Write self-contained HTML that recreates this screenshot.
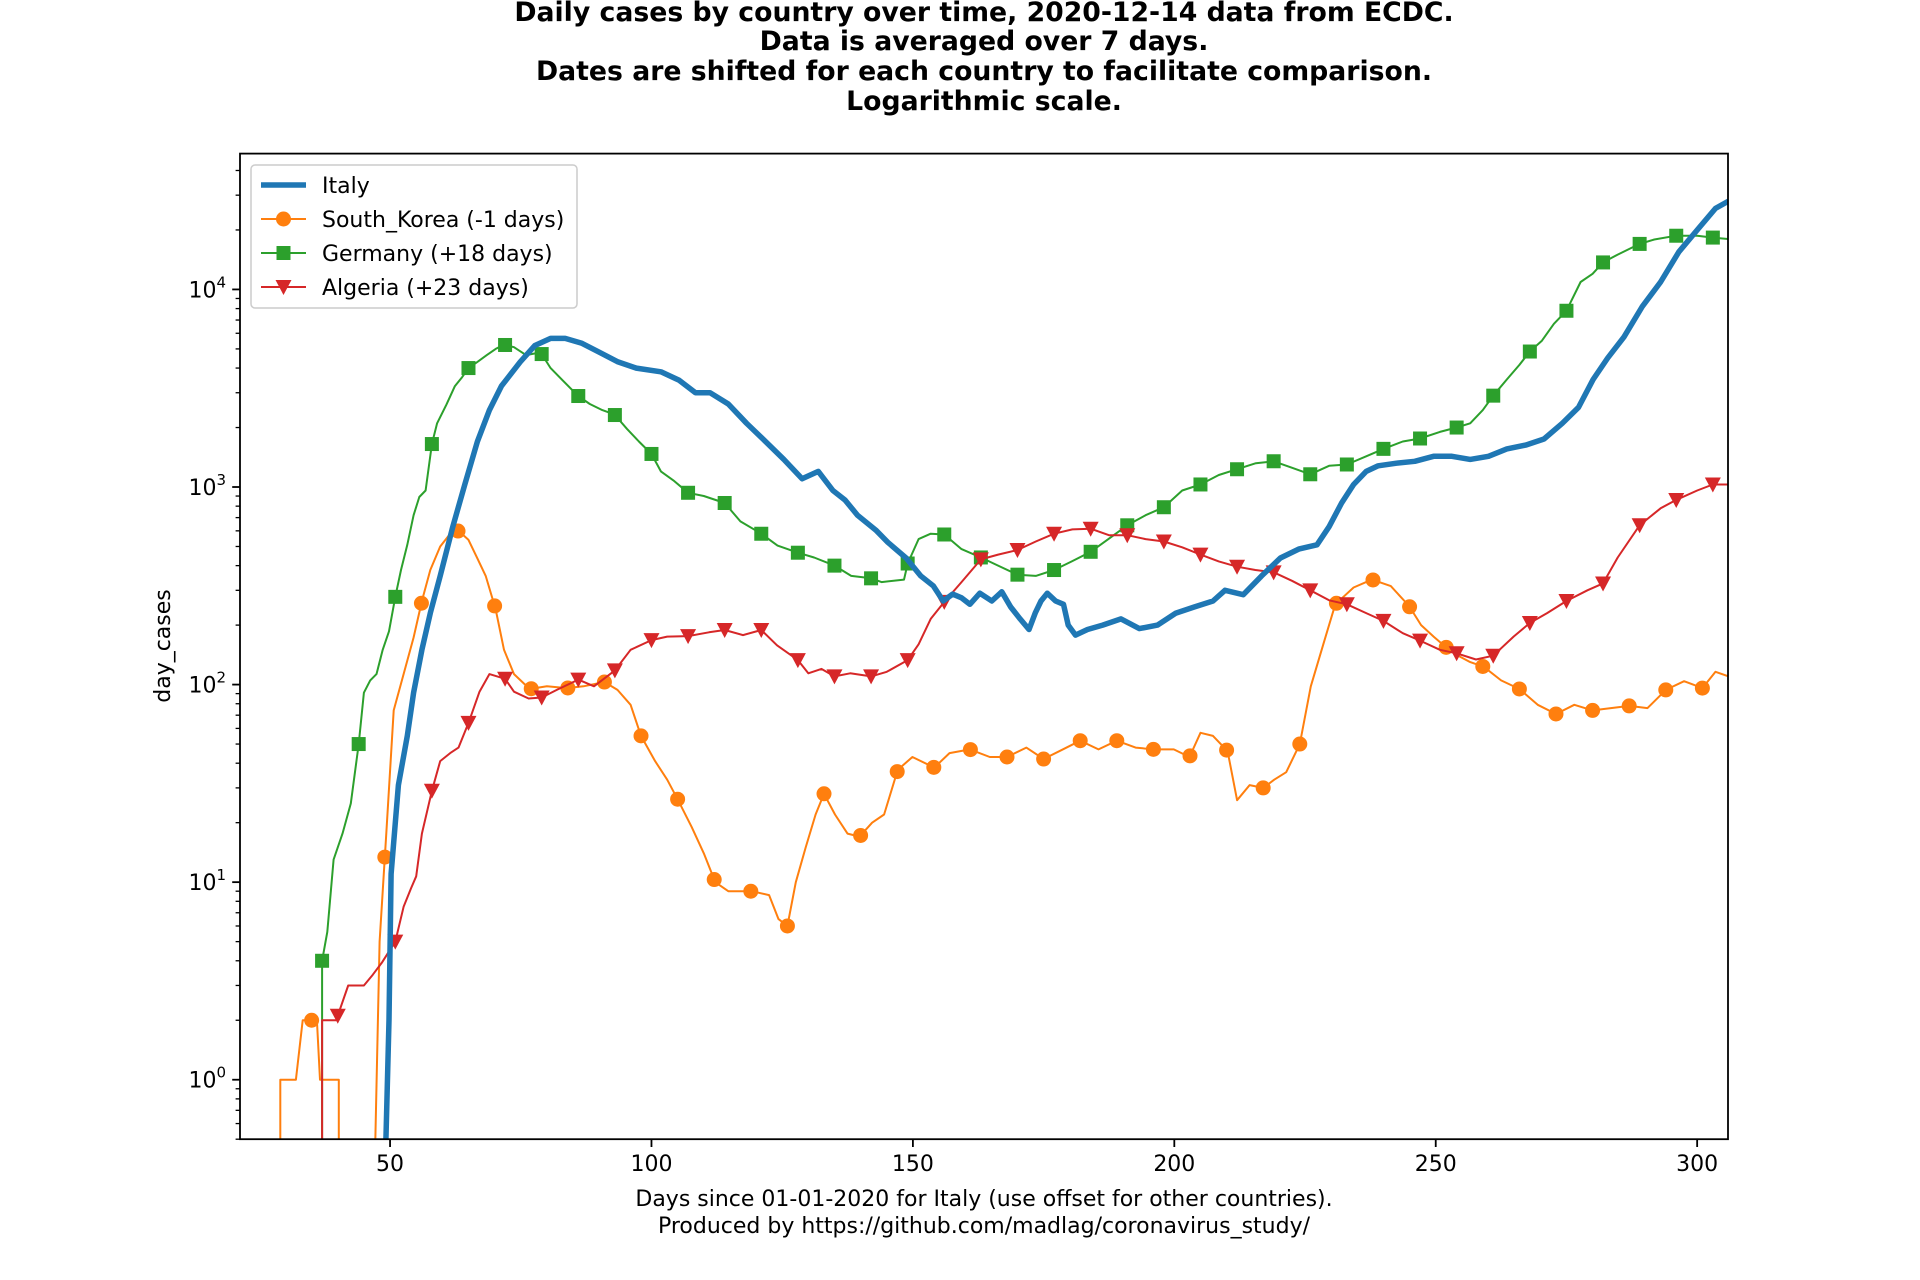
<!DOCTYPE html>
<html><head><meta charset="utf-8">
<style>
html,body{margin:0;padding:0;background:#fff;}
svg{display:block;font-family:"DejaVu Sans","Liberation Sans",sans-serif;}
</style></head>
<body>
<svg id="chart" width="1920" height="1280" viewBox="0 0 1920 1280" xmlns="http://www.w3.org/2000/svg">
<defs><clipPath id="plotclip"><rect x="240" y="153.6" width="1488" height="985.6"/></clipPath></defs>
<rect width="1920" height="1280" fill="#fff"/>
<g font-weight="bold" font-size="26.7" text-anchor="middle" fill="#000">
<text x="984" y="21">Daily cases by country over time, 2020-12-14 data from ECDC.</text>
<text x="984" y="50">Data is averaged over 7 days.</text>
<text x="984" y="80">Dates are shifted for each country to facilitate comparison.</text>
<text x="984" y="110">Logarithmic scale.</text>
</g>
<g id="series" clip-path="url(#plotclip)"></g>
<g id="axes"></g>
<rect x="240" y="153.6" width="1488" height="985.6" fill="none" stroke="#000" stroke-width="1.8"/>
<g font-size="22" text-anchor="middle">
<text x="984" y="1206">Days since 01-01-2020 for Italy (use offset for other countries).</text>
<text x="984" y="1233">Produced by https://github.com/madlag/coronavirus_study/</text>
</g>
<text font-size="22" text-anchor="middle" transform="translate(170,646) rotate(-90)">day_cases</text>
<g id="legend"></g>
</svg>
<script>
const xTicks=[50,100,150,200,250,300];
const yTickExps=[0,1,2,3,4];
const italyDays=[49,49.8,50.2,51.6,53.3,54.5,56.1,57.7,59.6,62,64.3,66.7,69,71.3,74.9,77.7,80.7,83.5,86.6,90.1,93.6,97.1,101.8,105.3,108.4,111.2,114.7,118.2,121.8,125.3,128.8,131.9,134.7,137,139.4,142.9,145.2,148.7,151.5,153.9,155.8,157.6,159.3,160.9,162.8,165.1,167,168.7,170.5,172.2,173.4,174.5,175.7,177.3,178.8,179.7,181.1,183.4,186.3,189.8,193.3,196.8,200.3,203.8,207.4,209.7,213.2,216.7,220.3,223.8,227.3,229.6,232,234.3,236.7,239,242.5,246,249.6,253.1,256.6,260.1,263.6,267.2,270.7,274.2,277.3,280.1,282.9,286,289.5,293,296.5,300,303.5,306];
const italyVals=[0.3,2,11,31,55,91,150,230,355,630,1030,1700,2450,3240,4300,5200,5650,5650,5350,4800,4300,4000,3830,3470,3000,3000,2630,2100,1700,1380,1100,1200,960,860,720,605,525,437,355,316,265,287,275,255,290,265,295,247,215,190,230,265,290,265,255,200,178,190,200,215,192,200,230,247,265,300,285,355,437,485,510,630,830,1030,1200,1280,1320,1350,1430,1430,1380,1430,1560,1630,1750,2100,2530,3500,4500,5750,8200,10900,15500,20000,25700,28000];
const koreaDays=[29,29,32,33.3,36,36.6,40.2,40.2,47,48,49.3,50.7,52.6,54.5,56.1,57.7,59.6,61.5,63.1,65,66.7,68.3,70.2,71.8,73.7,76.7,80,83.8,87,91,93.5,96,98,100.7,103,105.1,107.7,110,112.2,114.7,119.2,122.5,124.3,126,127.6,129.5,131.4,133,135.1,137.5,139.8,142.2,144.5,147.1,149.9,154.1,157,160.9,164.7,168,171.7,175,178,182,185.5,189,192.6,196.1,199.9,202.9,205,207.4,210.2,212,214.4,217,219.1,221.4,224,226.1,228.5,230.8,234.3,237.8,241.4,244.9,247.2,249.6,251.9,254.3,256.6,259.2,262.5,266,269.5,273,276.5,280,283.5,287,290.5,294,297.5,301,303.5,306];
const koreaVals=[0.3,1,1,2,2,1,1,0.3,0.3,5,18,74,113,173,265,380,500,580,600,540,435,355,240,150,113,95,98,96,98,103,94,79,55,41,33,26,19,14,10,9,9,8.6,6.5,6,10,15,22,28,22,17.6,17,20,22,37,43,38,45,47,43,43,48,42,46,52,47,52,48,47,47,43,57,55,46,26,31,30,33,36,50,98,160,255,310,340,315,250,200,175,155,140,130,123,105,95,79,71,79,74,76,78,76,94,104,96,116,110];
const koreaMarkerDays=[35,49,56,63,70,77,84,91,98,105,112,119,126,133,140,147,154,161,168,175,182,189,196,203,210,217,224,231,238,245,252,259,266,273,280,287,294,301];
const germanyDays=[37,37,38,39.2,40.9,42.5,44,45,46.2,47.4,48.6,49.8,51,52.1,53.3,54.5,55.6,56.8,58,59,60.8,62.4,63.8,65,66.7,68.5,70.2,71.8,73.7,76,78.8,80.7,83,85.9,88.2,90.6,92.9,95.3,97.6,100,101.8,104.2,107,110,114,117,121,124.1,128,131.1,135,138.2,142,144,148.3,149,151.1,153.4,156,159.3,163,166.3,170,173.5,177,180.4,184,187.4,191,194.5,198,201.5,205,208.5,212,215.6,219,222.6,226,229.6,233,236.7,240,243.7,247,250.8,254,256.6,259,261,263.6,266,268,270.3,272.6,275,277.7,280,282,284.8,289,291.8,296,300,303,306];
const germanyVals=[0.3,4,5.6,13,17.6,25,50,91,105,113,150,186,278,380,510,720,890,960,1650,2100,2620,3240,3600,4000,4300,4650,5000,5250,5100,4650,4800,4000,3470,2900,2630,2450,2330,1970,1700,1470,1200,1080,935,900,830,670,580,505,465,440,400,355,345,330,340,410,545,580,575,485,440,400,360,355,380,420,470,545,640,720,790,960,1030,1150,1230,1320,1350,1250,1160,1280,1300,1430,1560,1700,1760,1900,2000,2100,2450,2900,3500,4150,4850,5500,6700,7800,10900,12000,13700,15000,17000,17900,18700,18700,18300,18000];
const germanyMarkerDays=[37,44,51,58,65,72,79,86,93,100,107,114,121,128,135,142,149,156,163,170,177,184,191,198,205,212,219,226,233,240,247,254,261,268,275,282,289,296,303];
const algeriaDays=[37,37,38,39.7,42,45,46.7,48.4,51,52.6,54,55,56.1,58,59.6,61.5,63.1,65,67.1,69,72,73.7,76.5,79,81.9,86,89,93,96,100,103,107,111,114,117.5,121,124,128,130,132.5,135,138,142,145,149,151.1,153.4,156,159.3,163,166.3,170,173.5,177,180.5,184,187.5,191,194.5,198,201.5,205,208.5,212,215.5,219,222.5,226,229.6,233,236.7,240,243.7,247,250.8,254,257.7,261,264.9,268,271.3,275,279,282,284.8,289,293,296,300,303,306];
const algeriaVals=[0.3,2,2,2,3,3,3.4,3.9,5,7.5,9.3,10.7,17.6,29,41,45,48,64,92,113,107,92,85,86,94,106,98,118,150,168,175,176,184,189,178,189,158,133,114,120,110,114,110,116,133,160,215,262,330,430,455,480,530,580,610,615,570,570,545,530,495,455,420,395,380,370,335,300,267,255,230,210,182,167,150,144,134,140,175,205,230,265,300,325,440,640,780,860,960,1030,1030];
const algeriaMarkerDays=[40,51,58,65,72,79,86,93,100,107,114,121,128,135,142,149,156,163,170,177,184,191,198,205,212,219,226,233,240,247,254,261,268,275,282,289,296,303];

const X0=240,X1=1728,Y0=1139.2,Y1=153.6,XMIN=21.3,XMAX=305.9,LMIN=Math.log10(0.5),LMAX=Math.log10(48700);
function xs(d){return X0+(d-XMIN)/(XMAX-XMIN)*(X1-X0);}
function ys(v){return Y0-(Math.log10(v)-LMIN)/(LMAX-LMIN)*(Y0-Y1);}
const NS="http://www.w3.org/2000/svg";
function mk(tag,attrs,parent){const e=document.createElementNS(NS,tag);for(const k in attrs)e.setAttribute(k,attrs[k]);parent.appendChild(e);return e;}
function interp(days,vals,d){for(let i=1;i<days.length;i++){if(days[i]>=d&&days[i]>days[i-1]){const t=(d-days[i-1])/(days[i]-days[i-1]);return Math.pow(10,Math.log10(vals[i-1])+t*(Math.log10(vals[i])-Math.log10(vals[i-1])));}}return vals[vals.length-1];}
function marker(type,cx,cy,color,parent){
 let e;
 if(type==='o'){e=mk('circle',{cx:cx,cy:cy,r:7.5,fill:color},parent);}
 else if(type==='s'){e=mk('rect',{x:cx-7,y:cy-7,width:14,height:14,fill:color},parent);}
 else {e=mk('path',{d:`M${cx-8},${cy-7}L${cx+8},${cy-7}L${cx},${cy+8}Z`,fill:color},parent);}
 return e;
}
const sg=document.getElementById('series');
function drawSeries(name,days,vals,color,w,mtype,mdays){
 const g=mk('g',{},sg);
 
 
 const pts=days.map((d,i)=>xs(d).toFixed(1)+','+ys(vals[i]).toFixed(1)).join(' ');
 const pl=mk('polyline',{points:pts,fill:'none',stroke:color,'stroke-width':w,'stroke-linejoin':'round'},g);
 
 
 if(mdays){mdays.forEach(d=>{const v=interp(days,vals,d);const m=marker(mtype,xs(d),ys(v),color,g);
  
  });}
}
drawSeries('south-korea',koreaDays,koreaVals,'#ff7f0e',2,'o',koreaMarkerDays);
drawSeries('germany',germanyDays,germanyVals,'#2ca02c',2,'s',germanyMarkerDays);
drawSeries('algeria',algeriaDays,algeriaVals,'#d62728',2,'v',algeriaMarkerDays);
drawSeries('italy',italyDays,italyVals,'#1f77b4',5.5,null,null);

const ax=document.getElementById('axes');
xTicks.forEach(t=>{const x=xs(t);
 const l=mk('line',{x1:x,y1:Y0,x2:x,y2:Y0+7.8,stroke:'#000','stroke-width':1.8},ax);
 
 
 const tx=mk('text',{x:x,y:Y0+32,'font-size':22,'text-anchor':'middle'},ax);tx.textContent=t;
 
 
});
for(let e=-1;e<=4;e++){for(let m=1;m<10;m++){const v=m*Math.pow(10,e);if(v<0.5||v>48700)continue;const y=ys(v);
 const major=m===1;
 const l=mk('line',{x1:X0,y1:y,x2:X0-(major?7.8:4.4),y2:y,stroke:'#000','stroke-width':major?1.8:1.3},ax);
 
 
}}
yTickExps.forEach(e=>{const y=ys(Math.pow(10,e));
 const tx=mk('text',{x:X0-14,y:y+8,'font-size':22,'text-anchor':'end'},ax);
 
 
 tx.innerHTML='10<tspan dy="-10" font-size="15">'+e+'</tspan>';
});

const lg=document.getElementById('legend');
const box=mk('rect',{x:251,y:165,width:326,height:143,rx:4,fill:'#fff','fill-opacity':0.8,stroke:'#ccc','stroke-width':1.5},lg);


const legendNames=['Italy','South_Korea (-1 days)','Germany (+18 days)','Algeria (+23 days)'];
const legendColors=['#1f77b4','#ff7f0e','#2ca02c','#d62728'];
const legendMarkers=[null,'o','s','v'];
legendNames.forEach((n,i)=>{const y=185+i*34;
 const g=mk('g',{},lg);
 
 
 mk('line',{x1:261,y1:y,x2:306,y2:y,stroke:legendColors[i],'stroke-width':i===0?5.5:2},g);
 if(legendMarkers[i])marker(legendMarkers[i],283.5,y,legendColors[i],g);
 const t=mk('text',{x:322,y:y+8,'font-size':22},g);t.textContent=n;
});
</script>
</body></html>
